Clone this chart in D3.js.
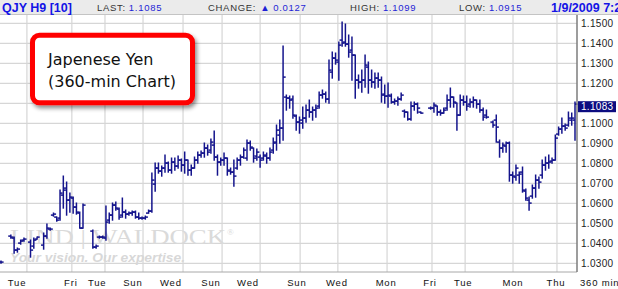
<!DOCTYPE html>
<html>
<head>
<meta charset="utf-8">
<script src="https://cdn.jsdelivr.net/npm/d3@7"></script>
<style>
  body { margin: 0; background: #fff; }
  text { font-family: "Liberation Sans", Arial, sans-serif; }
</style>
</head>
<body>
<div id="chart"></div>
<script>
// 360-min bars, one slot per bar, null = no bar
var high = [
1.0311, null, null, 1.0441, 1.0431, 1.0376, 1.0416, 1.0426, null, 1.0416,
1.0426, 1.0431, null, 1.0451, 1.0496, 1.0476, 1.0551, 1.0531, 1.0666, 1.0736,
1.0706, 1.0651, 1.0631, 1.0601, 1.0556, 1.0596, null, null, 1.0466, 1.0391,
1.0436, 1.0436, 1.0586, 1.0551, 1.0601, 1.0606, 1.0576, 1.0626, 1.0566, 1.0556,
1.0561, 1.0561, 1.0551, 1.0531, 1.0536, 1.0566, 1.0751, 1.0801, 1.0801, 1.0786,
1.0841, 1.0806, 1.0826, 1.0826, 1.0836, 1.0821, 1.0856, 1.0816, 1.0791, 1.0831,
1.0856, 1.0861, 1.0901, 1.0891, 1.0921, 1.0961, 1.0841, 1.0826, 1.0851, 1.0826,
1.0776, 1.0816, 1.0826, 1.0841, 1.0876, 1.0916, 1.0911, 1.0876, 1.0871, 1.0841,
1.0856, 1.0851, 1.0876, 1.0926, 1.0991, 1.1016, 1.1386, 1.1141, 1.1136, 1.1136,
1.1041, 1.1031, 1.1081, 1.1091, 1.1116, 1.1081, 1.1091, 1.1156, 1.1166, 1.1156,
1.1316, 1.1356, 1.1351, 1.1406, 1.1506, 1.1496, 1.1441, 1.1431, 1.1341, 1.1241,
1.1266, 1.1341, 1.1306, 1.1266, 1.1251, 1.1251, 1.1231, 1.1191, 1.1201, 1.1146,
1.1121, 1.1131, 1.1151, 1.1066, 1.1056, 1.1106, 1.1106, 1.1101, 1.1056, null,
null, 1.1081, 1.1101, 1.1086, 1.1066, 1.1076, 1.1141, 1.1176, 1.1131, 1.1101,
1.1141, 1.1136, 1.1136, 1.1121, 1.1131, 1.1116, 1.1116, 1.1076, 1.1066, null,
1.1011, 1.1041, 1.0916, 1.0901, 1.0906, 1.0906, 1.0756, 1.0791, 1.0756, 1.0781,
1.0671, 1.0631, 1.0691, 1.0741, 1.0731, 1.0816, 1.0831, 1.0841, 1.0826, 1.0941,
1.0981, 1.1026, 1.0996, 1.1056, 1.1051, 1.1106
];
var low = [
1.0301, null, null, 1.0426, 1.0351, 1.0356, 1.0396, 1.0411, null, 1.0331,
1.0376, 1.0421, null, 1.0371, 1.0426, 1.0466, 1.0536, 1.0511, 1.0516, 1.0576,
1.0541, 1.0556, 1.0551, 1.0546, 1.0476, 1.0476, null, null, 1.0376, 1.0376,
1.0426, 1.0426, 1.0416, 1.0501, 1.0516, 1.0566, 1.0521, 1.0531, 1.0526, 1.0541,
1.0541, 1.0526, 1.0521, 1.0521, 1.0521, 1.0551, 1.0556, 1.0661, 1.0751, 1.0736,
1.0756, 1.0756, 1.0751, 1.0766, 1.0776, 1.0761, 1.0751, 1.0741, 1.0741, 1.0776,
1.0801, 1.0831, 1.0831, 1.0841, 1.0851, 1.0816, 1.0741, 1.0791, 1.0791, 1.0741,
1.0746, 1.0686, 1.0771, 1.0791, 1.0826, 1.0816, 1.0866, 1.0806, 1.0816, 1.0781,
1.0816, 1.0801, 1.0816, 1.0851, 1.0866, 1.0901, 1.0916, 1.1066, 1.1076, 1.1026,
1.0966, 1.0951, 1.0976, 1.1006, 1.1031, 1.1016, 1.1031, 1.1076, 1.1126, 1.1106,
1.1101, 1.1226, 1.1296, 1.1216, 1.1386, 1.1386, 1.1331, 1.1216, 1.1126, 1.1176,
1.1156, 1.1181, 1.1151, 1.1181, 1.1176, 1.1181, 1.1106, 1.1101, 1.1081, 1.1101,
1.1096, 1.1091, 1.1116, 1.1031, 1.1016, 1.1016, 1.1066, 1.1051, 1.1051, null,
null, 1.1071, 1.1056, 1.1041, 1.1041, 1.1051, 1.1066, 1.1081, 1.1081, 1.0966,
1.1041, 1.1091, 1.1066, 1.1081, 1.1081, 1.1076, 1.1056, 1.1016, 1.1026, null,
1.0981, 1.0906, 1.0831, 1.0856, 1.0856, 1.0711, 1.0701, 1.0716, 1.0701, 1.0656,
1.0616, 1.0566, 1.0626, 1.0631, 1.0676, 1.0726, 1.0766, 1.0776, 1.0801, 1.0816,
1.0941, 1.0951, 1.0966, 1.0986, 1.0991, 1.0916
];
var open = [
1.0306, null, null, 1.0436, 1.0426, 1.0366, 1.0401, 1.0416, null, 1.0406,
1.0386, 1.0421, null, 1.0391, 1.0436, 1.0471, 1.0541, 1.0531, 1.0526, 1.0641,
1.0676, 1.0616, 1.0626, 1.0581, 1.0551, 1.0476, null, null, 1.0461, 1.0381,
1.0431, 1.0431, 1.0426, 1.0516, 1.0541, 1.0591, 1.0571, 1.0541, 1.0556, 1.0546,
1.0551, 1.0556, 1.0531, 1.0526, 1.0526, 1.0551, 1.0561, 1.0696, 1.0776, 1.0761,
1.0776, 1.0801, 1.0766, 1.0806, 1.0786, 1.0816, 1.0791, 1.0816, 1.0766, 1.0776,
1.0816, 1.0841, 1.0851, 1.0876, 1.0866, 1.0891, 1.0831, 1.0806, 1.0816, 1.0826,
1.0761, 1.0756, 1.0776, 1.0816, 1.0831, 1.0826, 1.0901, 1.0876, 1.0836, 1.0831,
1.0826, 1.0836, 1.0826, 1.0866, 1.0906, 1.0941, 1.0976, 1.1131, 1.1126, 1.1121,
1.1036, 1.1006, 1.1001, 1.1026, 1.1066, 1.1056, 1.1066, 1.1086, 1.1141, 1.1146,
1.1121, 1.1256, 1.1326, 1.1306, 1.1416, 1.1406, 1.1396, 1.1366, 1.1341, 1.1216,
1.1206, 1.1216, 1.1281, 1.1216, 1.1206, 1.1226, 1.1216, 1.1146, 1.1136, 1.1136,
1.1106, 1.1111, 1.1121, 1.1061, 1.1056, 1.1021, 1.1086, 1.1096, 1.1056, null,
null, 1.1076, 1.1076, 1.1086, 1.1056, 1.1051, 1.1076, 1.1116, 1.1131, 1.1101,
1.1041, 1.1116, 1.1106, 1.1096, 1.1106, 1.1116, 1.1096, 1.1066, 1.1041, null,
1.1006, 1.1016, 1.0906, 1.0876, 1.0886, 1.0901, 1.0741, 1.0731, 1.0741, 1.0756,
1.0661, 1.0616, 1.0636, 1.0676, 1.0716, 1.0741, 1.0791, 1.0801, 1.0811, 1.0816,
1.0946, 1.0971, 1.0986, 1.0991, 1.1016, 1.1016
];
var close = [
1.0306, null, null, 1.0431, 1.0366, 1.0371, 1.0411, 1.0421, null, 1.0366,
1.0416, 1.0431, null, 1.0436, 1.0476, 1.0471, 1.0546, 1.0516, 1.0651, 1.0666,
1.0616, 1.0631, 1.0581, 1.0556, 1.0476, 1.0591, null, null, 1.0381, 1.0386,
1.0431, 1.0431, 1.0506, 1.0541, 1.0591, 1.0576, 1.0531, 1.0556, 1.0546, 1.0551,
1.0556, 1.0531, 1.0526, 1.0526, 1.0531, 1.0561, 1.0716, 1.0776, 1.0761, 1.0776,
1.0801, 1.0766, 1.0806, 1.0786, 1.0816, 1.0791, 1.0816, 1.0766, 1.0776, 1.0816,
1.0841, 1.0851, 1.0876, 1.0856, 1.0906, 1.0831, 1.0806, 1.0816, 1.0826, 1.0766,
1.0756, 1.0736, 1.0816, 1.0831, 1.0866, 1.0901, 1.0881, 1.0826, 1.0856, 1.0816,
1.0841, 1.0826, 1.0856, 1.0901, 1.0966, 1.0976, 1.1231, 1.1126, 1.1116, 1.1041,
1.1006, 1.1016, 1.1026, 1.1066, 1.1056, 1.1066, 1.1076, 1.1141, 1.1146, 1.1121,
1.1266, 1.1326, 1.1316, 1.1391, 1.1401, 1.1396, 1.1356, 1.1341, 1.1216, 1.1206,
1.1216, 1.1291, 1.1216, 1.1206, 1.1226, 1.1216, 1.1141, 1.1136, 1.1141, 1.1106,
1.1111, 1.1121, 1.1141, 1.1056, 1.1021, 1.1086, 1.1096, 1.1076, 1.1051, null,
null, 1.1076, 1.1091, 1.1056, 1.1051, 1.1066, 1.1116, 1.1131, 1.1106, 1.1041,
1.1116, 1.1106, 1.1086, 1.1106, 1.1116, 1.1096, 1.1066, 1.1031, 1.1031, null,
1.0991, 1.0981, 1.0876, 1.0891, 1.0901, 1.0741, 1.0736, 1.0776, 1.0746, 1.0666,
1.0626, 1.0601, 1.0676, 1.0716, 1.0706, 1.0791, 1.0801, 1.0806, 1.0816, 1.0926,
1.0971, 1.0986, 1.0976, 1.1026, 1.1026, 1.1096
];

// day separators (slot positions) and day labels
var gridSlots = [7.9, 21.6, 31.7, 43.3, 55.5, 67.4, 79.0, 91.2, 102.7, 117.7, 131.4, 141.5, 156.1, 169.5];
var dayLabels = ["Tue", "Fri", "Tue", "Sun", "Wed", "Sun", "Wed", "Sun", "Wed", "Mon", "Fri", "Tue", "Mon", "Thu"];
var labelSlots = [4.9, 21.3, 29.3, 40.2, 51.8, 64.0, 75.3, 90.2, 102.4, 117.4, 130.8, 140.9, 156.1, 169.2];
var priceTicks = [1.03, 1.04, 1.05, 1.06, 1.07, 1.08, 1.09, 1.10, 1.11, 1.12, 1.13, 1.14, 1.15];
var lastPrice = 1.1083;

var header = [
  {label: "LAST:", value: "1.1085", x: 97},
  {label: "CHANGE:", value: "0.0127", x: 208, arrow: true},
  {label: "HIGH:", value: "1.1099", x: 350},
  {label: "LOW:", value: "1.0915", x: 459}
];

var W = 618, H = 289;
var plotTop = 14, plotBottom = 272, plotRight = 577;

var svg = d3.select("#chart")
  .append("svg")
    .attr("width", W)
    .attr("height", H);

var defs = svg.append("defs");
var shadow = defs.append("filter").attr("id", "shadow")
  .attr("x", "-20%").attr("y", "-20%").attr("width", "150%").attr("height", "160%");
shadow.append("feDropShadow")
  .attr("dx", 2).attr("dy", 3).attr("stdDeviation", 2)
  .attr("flood-color", "#000").attr("flood-opacity", 0.45);

var x = d3.scaleLinear()
  .domain([0, 175])
  .range([1, 575]);

var y = d3.scaleLinear()
  .domain([1.03, 1.15])
  .range([263.3, 23.3]);

// grid
svg.append("g")
  .selectAll("line")
  .data(priceTicks)
  .enter().append("line")
    .attr("x1", 0).attr("x2", plotRight)
    .attr("y1", function(d) { return y(d) })
    .attr("y2", function(d) { return y(d) })
    .attr("stroke", "#d6d6d6")
    .attr("stroke-width", 1.2);

svg.append("g")
  .selectAll("line")
  .data(gridSlots)
  .enter().append("line")
    .attr("x1", function(d) { return x(d) })
    .attr("x2", function(d) { return x(d) })
    .attr("y1", plotTop).attr("y2", plotBottom)
    .attr("stroke", "#d6d6d6")
    .attr("stroke-width", 1.2);

// watermark
svg.append("text")
  .attr("x", 10).attr("y", 244)
  .attr("textLength", 216)
  .attr("lengthAdjust", "spacingAndGlyphs")
  .style("font-family", "'Liberation Serif', 'DejaVu Serif', serif")
  .style("font-size", "22px")
  .attr("fill", "#dadada")
  .text("LIND | WALDOCK");
svg.append("text")
  .attr("x", 227).attr("y", 235)
  .style("font-family", "'Liberation Serif', serif")
  .style("font-size", "9px")
  .attr("fill", "#dadada")
  .text("®");
svg.append("text")
  .attr("x", 10).attr("y", 262)
  .attr("textLength", 175)
  .attr("lengthAdjust", "spacingAndGlyphs")
  .style("font-size", "12.5px")
  .style("font-style", "italic")
  .style("font-weight", "bold")
  .attr("fill", "#d8d8d8")
  .text("Your vision. Our expertise.");

// OHLC bars
var bars = d3.range(high.length).filter(function(i) { return high[i] != null });
var gBars = svg.append("g")
  .attr("stroke", "#14148c")
  .attr("stroke-width", 1.5);

gBars.selectAll(".hl")
  .data(bars)
  .enter().append("line")
    .attr("x1", function(i) { return x(i) })
    .attr("x2", function(i) { return x(i) })
    .attr("y1", function(i) { return y(high[i]) - 0.6 })
    .attr("y2", function(i) { return y(low[i]) + 0.6 });

gBars.selectAll(".op")
  .data(bars)
  .enter().append("line")
    .attr("x1", function(i) { return x(i) - 2.6 })
    .attr("x2", function(i) { return x(i) })
    .attr("y1", function(i) { return y(open[i]) })
    .attr("y2", function(i) { return y(open[i]) });

gBars.selectAll(".cl")
  .data(bars)
  .enter().append("line")
    .attr("x1", function(i) { return x(i) })
    .attr("x2", function(i) { return x(i) + 2.6 })
    .attr("y1", function(i) { return y(close[i]) })
    .attr("y2", function(i) { return y(close[i]) });

// frame
svg.append("line")
  .attr("x1", 0).attr("x2", plotRight)
  .attr("y1", plotBottom).attr("y2", plotBottom)
  .attr("stroke", "#a8a8a8").attr("stroke-width", 1);
svg.append("line")
  .attr("x1", plotRight).attr("x2", plotRight)
  .attr("y1", plotTop).attr("y2", plotBottom)
  .attr("stroke", "#7c7c7c").attr("stroke-width", 1.5);

// price axis (labels hidden where the last-price box sits)
var labelTicks = priceTicks.filter(function(d) { return Math.abs(y(d) - y(lastPrice)) > 10 });
var axis = svg.append("g")
  .attr("transform", "translate(" + plotRight + ",0)")
  .call(d3.axisRight(y).tickValues(labelTicks).tickFormat(d3.format(".4f")).tickSize(0).tickPadding(4));
axis.select(".domain").remove();
axis.selectAll("text")
  .style("font-family", "'Liberation Sans', Arial, sans-serif")
  .style("font-size", "10px")
  .style("letter-spacing", "0.3px")
  .attr("fill", "#222");

svg.append("rect")
  .attr("x", plotRight + 1).attr("y", y(lastPrice) - 5.5)
  .attr("width", 38).attr("height", 11)
  .attr("fill", "#0c0c80");
svg.append("text")
  .attr("x", plotRight + 4).attr("y", y(lastPrice) + 3.6)
  .style("font-size", "10px")
  .style("letter-spacing", "0.3px")
  .attr("fill", "#fff")
  .text(d3.format(".4f")(lastPrice));

// day axis
svg.append("g")
  .selectAll("text")
  .data(dayLabels)
  .enter().append("text")
    .attr("x", function(d, i) { return x(labelSlots[i]) })
    .attr("y", 286)
    .attr("text-anchor", "middle")
    .style("font-size", "9.5px")
    .style("letter-spacing", "0.8px")
    .attr("fill", "#111")
    .text(function(d) { return d });
svg.append("text")
  .attr("x", 580).attr("y", 286)
  .style("font-size", "9.5px")
  .style("letter-spacing", "0.8px")
  .attr("fill", "#111")
  .text("360 min");

// header strip
svg.append("rect")
  .attr("x", 0).attr("y", 0).attr("width", W).attr("height", plotTop)
  .attr("fill", "#ebebeb");
svg.append("line")
  .attr("x1", 0).attr("x2", W).attr("y1", plotTop + 0.5).attr("y2", plotTop + 0.5)
  .attr("stroke", "#c4c4c4");

svg.append("text")
  .attr("x", 2).attr("y", 11.8)
  .style("font-size", "12.5px").style("font-weight", "bold")
  .attr("fill", "#1414e6")
  .text("QJY H9 [10]");

header.forEach(function(h) {
  var t = svg.append("text")
    .attr("x", h.x).attr("y", 11.3)
    .style("font-size", "9.5px")
    .style("letter-spacing", "0.7px");
  t.append("tspan").attr("fill", "#333").text(h.label);
  if (h.arrow) {
    t.append("tspan").attr("fill", "#1f1fd6").attr("dx", 4).text("\u25B2");
  }
  t.append("tspan").attr("fill", "#1f1fd6").attr("dx", 3).text(h.value);
});

svg.append("text")
  .attr("x", 551).attr("y", 11.8)
  .style("font-size", "12.5px").style("font-weight", "bold")
  .attr("fill", "#1414e6")
  .text("1/9/2009 7:20");

// callout
svg.append("rect")
  .attr("x", 32.5).attr("y", 35.2)
  .attr("width", 160).attr("height", 67.5)
  .attr("rx", 7)
  .attr("fill", "#fff")
  .attr("stroke", "#ff0000")
  .attr("stroke-width", 5)
  .attr("filter", "url(#shadow)");
svg.append("text")
  .attr("x", 48).attr("y", 65)
  .style("font-family", "'DejaVu Sans', Verdana, sans-serif")
  .style("font-size", "16px")
  .attr("fill", "#111")
  .text("Japenese Yen");
svg.append("text")
  .attr("x", 48).attr("y", 86.5)
  .style("font-family", "'DejaVu Sans', Verdana, sans-serif")
  .style("font-size", "16px")
  .attr("fill", "#111")
  .text("(360-min Chart)");
</script>
</body>
</html>
